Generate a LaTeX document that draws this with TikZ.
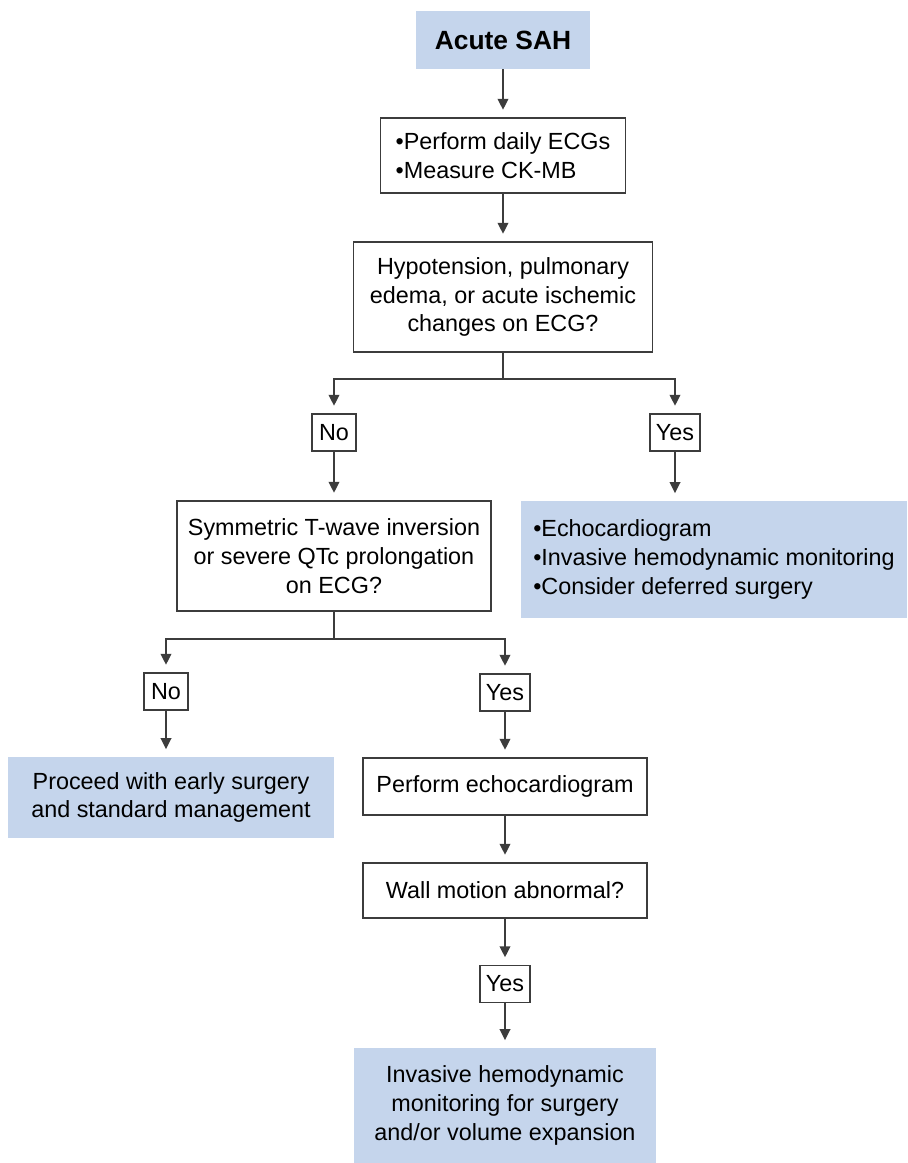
\documentclass[tikz,border=0pt]{standalone}
\usepackage{fontspec}
\setmainfont{Liberation Sans}
\usetikzlibrary{arrows.meta}
\definecolor{boxblue}{HTML}{C5D5EC}
\definecolor{linegray}{HTML}{3C3C3C}
\begin{document}
\begin{tikzpicture}[x=0.02cm,y=-0.02cm,
 every node/.style={font=\fontsize{13.3}{16.3}\selectfont,align=center,inner sep=0pt},
 qbox/.style={draw=linegray,line width=0.8pt,fill=white},
 bbox/.style={fill=boxblue},
 ans/.style={draw=linegray,line width=0.8pt,fill=white,minimum width=0.88cm,minimum height=0.74cm,inner xsep=0.12cm},
 flow/.style={linegray,line width=1.15pt},
 arr/.style={flow,-{Triangle[length=0.22cm,width=0.21cm]},shorten >=0.15cm}]
 \useasboundingbox (0,0) rectangle (907,1163);
 % main column
 \node[bbox,minimum width=3.5cm,minimum height=1.16cm,font=\fontsize{15}{18}\selectfont\bfseries] (sah) at (503,40) {Acute SAH};
 \node[qbox,minimum width=4.9cm,minimum height=1.5cm,align=left] (daily) at (503,155.5) {•Perform daily ECGs\\•Measure CK-MB};
 \node[qbox,minimum width=5.98cm,minimum height=2.2cm] (hypo) at (503,297) {Hypotension, pulmonary\\edema, or acute ischemic\\changes on ECG?};
 \node[ans] (no1) at (334,432.5) {No};
 \node[ans] (yes1) at (675,432.5) {Yes};
 \node[bbox,minimum width=7.72cm,minimum height=2.34cm,align=left] (monitor) at (714,559.5) {•Echocardiogram\\•Invasive hemodynamic monitoring\\•Consider deferred surgery};
 \node[qbox,minimum width=6.28cm,minimum height=2.2cm] (sym) at (334,556) {Symmetric T-wave inversion\\or severe QTc prolongation\\on ECG?};
 \node[ans] (no2) at (166,691.5) {No};
 \node[ans] (yes2) at (505,692.5) {Yes};
 \node[bbox,minimum width=6.52cm,minimum height=1.62cm] (early) at (171,797.5) {Proceed with early surgery\\and standard management};
 \node[qbox,minimum width=5.68cm,minimum height=1.14cm] (echo) at (505,786.5) {Perform echocardiogram};
 \node[qbox,minimum width=5.68cm,minimum height=1.1cm] (wall) at (505,890.5) {Wall motion abnormal?};
 \node[ans] (yes3) at (505,984) {Yes};
 \node[bbox,minimum width=6.06cm,minimum height=2.3cm] (invasive) at (505,1105.5) {Invasive hemodynamic\\monitoring for surgery\\and/or volume expansion};
 % connectors
 \coordinate (split1) at (503,379);
 \coordinate (split2) at (334,639);
 \draw[arr] (sah) -- (daily);
 \draw[arr] (daily) -- (hypo);
 \draw[flow] (hypo.south) -- (split1);
 \draw[arr] (split1) -| (no1.north);
 \draw[arr] (split1) -| (yes1.north);
 \draw[arr] (no1) -- (sym);
 \draw[arr] (yes1) -- (yes1 |- monitor.north);
 \draw[flow] (sym.south) -- (split2);
 \draw[arr] (split2) -| (no2.north);
 \draw[arr] (split2) -| (yes2.north);
 \draw[arr] (no2) -- (no2 |- early.north);
 \draw[arr] (yes2) -- (echo);
 \draw[arr] (echo) -- (wall);
 \draw[arr] (wall) -- (yes3);
 \draw[arr] (yes3) -- (invasive);
\end{tikzpicture}
\end{document}
